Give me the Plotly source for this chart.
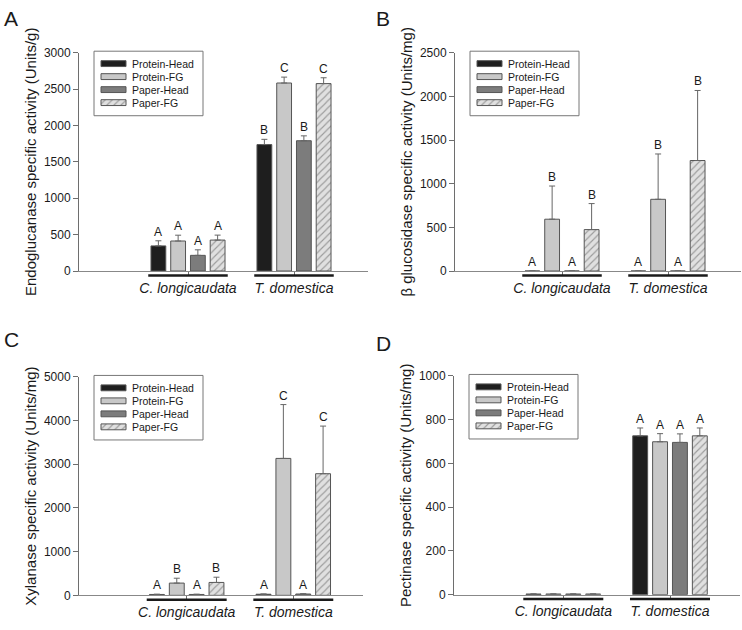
import plotly.graph_objects as go

# ---------------- data ----------------
groups = ["C. longicaudata", "T. domestica"]
series = ["Protein-Head", "Protein-FG", "Paper-Head", "Paper-FG"]

endo_mean = [[345, 1737], [412, 2583], [215, 1790], [425, 2575]]
endo_err = [[70, 72], [80, 81], [76, 67], [68, 80]]
endo_letters = [["A", "B"], ["A", "C"], ["A", "B"], ["A", "C"]]

gluc_mean = [[0, 0], [593, 821], [0, 0], [474, 1265]]
gluc_err = [[0, 0], [380, 519], [0, 0], [298, 802]]
gluc_letters = [["A", "A"], ["B", "B"], ["A", "A"], ["B", "B"]]

xyl_mean = [[20, 25], [280, 3134], [20, 30], [295, 2784]]
xyl_err = [[6, 6], [112, 1232], [6, 6], [120, 1090]]
xyl_letters = [["A", "A"], ["B", "C"], ["A", "A"], ["B", "C"]]

pect_mean = [[3, 726], [3, 699], [3, 696], [3, 726]]
pect_err = [[0, 36], [0, 37], [0, 39], [0, 36]]
pect_letters = [["", "A"], ["", "A"], ["", "A"], ["", "A"]]

y_titles = [
    "Endoglucanase specific activity (Units/g)",
    "\u03b2 glucosidase specific activity (Units/mg)",
    "Xylanase specific activity (Units/mg)",
    "Pectinase specific activity (Units/mg)",
]
y_max = [3000, 2500, 5000, 1000]
y_dtick = [500, 500, 1000, 200]
panel_labels = ["A", "B", "C", "D"]

means = [endo_mean, gluc_mean, xyl_mean, pect_mean]
errs = [endo_err, gluc_err, xyl_err, pect_err]
letters = [endo_letters, gluc_letters, xyl_letters, pect_letters]

# ---------------- styling / layout ----------------
W, H = 742, 630
FONT = "Liberation Sans, Arial, sans-serif"
TXT = "#1a1a1a"
AXC = "#6e6e6e"
fills = ["#1e1e1e", "#c8c8c8", "#7c7c7c", "#e0e0e0"]
patterns = [None, None, None, dict(shape="/", size=5, solidity=0.22,
                                    fgcolor="#555555", bgcolor="#e0e0e0")]
BARGAP = 0.255
BARGROUPGAP = 0.25
slot = (1 - BARGAP) / len(series)

# pixel boxes of each panel: left, right, top, bottom, group centres
panels = [
    dict(l=79, r=368, t=46.7, b=270, c0=188, c1=294),
    dict(l=455, r=741, t=46.7, b=270, c0=562, c1=668),
    dict(l=79, r=363, t=378.3, b=601.7, c0=186.7, c1=293.3),
    dict(l=454, r=740, t=377.3, b=601, c0=563.3, c1=670),
]
letter_pos = [(2, 12), (374, 12), (2, 340), (374, 344)]

fig = go.Figure()
annotations = []
shapes = []
layout = {}

for p, pb in enumerate(panels):
    ax = "" if p == 0 else str(p + 1)
    unit = pb["c1"] - pb["c0"]
    xr = [(pb["l"] - pb["c0"]) / unit, (pb["r"] - pb["c0"]) / unit]
    for s, name in enumerate(series):
        marker = dict(color=fills[s], line=dict(color="#555555", width=1))
        if patterns[s]:
            marker["pattern"] = patterns[s]
        fig.add_trace(go.Bar(
            x=[0, 1], y=means[p][s], name=name, showlegend=False,
            marker=marker,
            error_y=dict(type="data", array=errs[p][s],
                         arrayminus=[0] * len(groups), symmetric=False,
                         color="#666666", thickness=1, width=3),
            xaxis="x" + ax, yaxis="y" + ax,
        ))
        for g in range(len(groups)):
            lt = letters[p][s][g]
            if lt:
                annotations.append(dict(
                    x=g + (s - 1.5) * slot, y=means[p][s][g] + errs[p][s][g],
                    xref="x" + ax, yref="y" + ax, text=lt, showarrow=False,
                    yanchor="bottom", yshift=0,
                    font=dict(family=FONT, size=12, color=TXT)))
    layout["xaxis" + ax] = dict(
        domain=[pb["l"] / W, pb["r"] / W], range=xr, anchor="y" + ax,
        tickvals=list(range(len(groups))),
        ticktext=["<i>%s</i>" % g for g in groups],
        showline=True, linecolor="#888888", linewidth=1,
        ticks="outside", ticklen=4, tickcolor=AXC, ticklabelstandoff=0,
        tickfont=dict(family=FONT, size=14, color=TXT),
        showgrid=False, zeroline=False, fixedrange=True)
    layout["yaxis" + ax] = dict(
        domain=[1 - pb["b"] / H, 1 - pb["t"] / H], range=[0, y_max[p]],
        anchor="x" + ax, dtick=y_dtick[p], tick0=0,
        showline=True, linecolor=AXC, linewidth=1,
        ticks="outside", ticklen=5, tickcolor=AXC,
        tickfont=dict(family=FONT, size=12, color=TXT),
        title=dict(text=y_titles[p], font=dict(family=FONT, size=15, color=TXT),
                   standoff=3),
        showgrid=False, zeroline=False, fixedrange=True)
    # thick underline beneath each group
    for g in range(len(groups)):
        shapes.append(dict(type="line", xref="x" + ax, yref="y" + ax + " domain",
                           x0=g - 0.375, x1=g + 0.375,
                           y0=-4.5 / (pb["b"] - pb["t"]), y1=-4.5 / (pb["b"] - pb["t"]),
                           line=dict(color="#1a1a1a", width=2.5)))
    # panel letter
    lx, ly = letter_pos[p]
    annotations.append(dict(x=lx / W, y=1 - ly / H, xref="paper", yref="paper",
                            text=panel_labels[p], showarrow=False,
                            xanchor="left", yanchor="middle",
                            font=dict(family=FONT, size=21, color=TXT)))
    # legend box and labels
    bx, by = pb["l"] + 15, pb["t"] - 1.5
    shapes.append(dict(type="rect", xref="paper", yref="paper", layer="below",
                       x0=bx / W, x1=(bx + 109) / W,
                       y0=1 - (by + 66) / H, y1=1 - by / H,
                       line=dict(color="#777777", width=1), fillcolor="white"))
    for s, name in enumerate(series):
        ry = by + 12.7 + 13.3 * s
        annotations.append(dict(x=(bx + 36) / W, y=1 - ry / H, xref="paper", yref="paper",
                                text=name, showarrow=False, xanchor="left",
                                yanchor="middle",
                                font=dict(family=FONT, size=10.5, color=TXT)))

# legend swatches drawn as small horizontal bars on a pixel-scaled overlay axis
for s, name in enumerate(series):
    marker = dict(color=fills[s], line=dict(color="#555555", width=1))
    if patterns[s]:
        marker["pattern"] = patterns[s]
    fig.add_trace(go.Bar(
        orientation="h",
        y=[pb["t"] - 1.5 + 12.7 + 13.3 * s for pb in panels],
        x=[25] * len(panels),
        base=[pb["l"] + 15 + 7 for pb in panels],
        width=6, offset=-3, marker=marker, showlegend=False,
        xaxis="x5", yaxis="y5", hoverinfo="skip"))

layout["xaxis5"] = dict(domain=[0, 1], range=[0, W], visible=False, anchor="y5",
                        fixedrange=True)
layout["yaxis5"] = dict(domain=[0, 1], range=[H, 0], visible=False, anchor="x5",
                        fixedrange=True)

fig.update_layout(
    width=W, height=H, autosize=False,
    margin=dict(l=0, r=0, t=0, b=0),
    paper_bgcolor="white", plot_bgcolor="rgba(0,0,0,0)",
    barmode="group", bargap=BARGAP, bargroupgap=BARGROUPGAP,
    showlegend=False, hovermode=False,
    annotations=annotations, shapes=shapes,
    font=dict(family=FONT, color=TXT),
    **layout,
)

fig.write_html("out.html",
               config={"displayModeBar": False, "staticPlot": True},
               post_script="document.documentElement.style.margin='0';"
                           "document.documentElement.style.overflow='hidden';"
                           "document.body.style.margin='0';"
                           "document.body.style.padding='0';"
                           "document.body.style.overflow='hidden';")
